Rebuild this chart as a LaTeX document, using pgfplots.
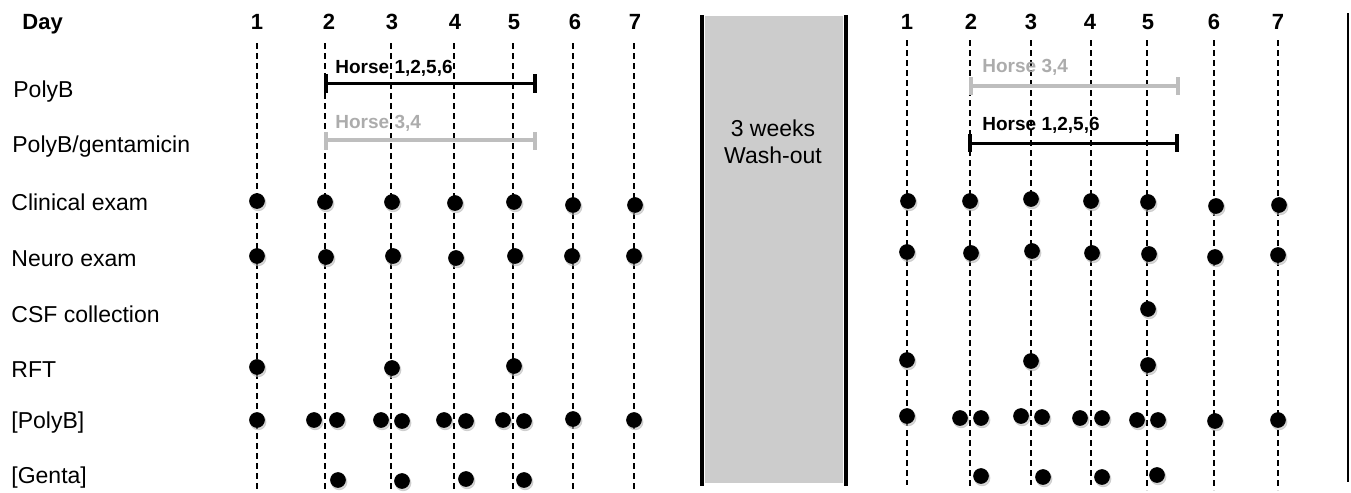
\documentclass[border=0pt]{standalone}
\usepackage{pgfplots}
\pgfplotsset{compat=1.18}
\usepackage{pgfplotstable}
\usepackage{fontspec}
\setmainfont{Liberation Sans}
\definecolor{barg}{RGB}{190,190,190}
\definecolor{txtg}{RGB}{172,172,172}
\definecolor{boxg}{RGB}{204,204,204}

% all event dots (x in px, y in px from top)
\pgfplotstableread{
x y
257 201
325 202
392 202
455 203
514 202
573 205
635 205
257 256
326 257
393 256
456 258
515 256
572 256
634 256
257 367
392 368
514 366
257 420
314 420
337 420
381 420
402 421
444 420
466 421
503 420
524 421
573 419
634 420
338 480
402 481
466 479
524 480
908 201
970 201
1031 199
1091 201
1148 202
1216 206
1279 205
907 252
971 253
1032 251
1092 253
1149 254
1215 257
1278 255
1148 309
907 360
1031 361
1148 365
907 416
960 418
981 418
1021 416
1042 417
1080 418
1102 418
1137 420
1158 420
1215 421
1278 420
981 476
1043 477
1102 477
1157 475
}\dotsdata

\tikzset{
  lbl/.style={anchor=base west, inner sep=0pt, font=\fontsize{11.5}{13}\selectfont},
  day/.style={anchor=base, inner sep=0pt, font=\fontsize{11}{13}\selectfont\bfseries},
  hrs/.style={anchor=base west, inner sep=0pt, font=\fontsize{9.5}{11}\selectfont\bfseries},
}

\begin{document}
\begin{tikzpicture}
\begin{axis}[
  scale only axis, width=675.5pt, height=246.5pt,
  xmin=0, xmax=1351, ymin=0, ymax=493, y dir=reverse,
  hide axis, clip=false, unbounded coords=jump,
]
% invisible frame to fix bounding box
\path (axis cs:0,0) rectangle (axis cs:1351,493);
% wash-out box and separators
\fill[boxg] (axis cs:705,16) rectangle (axis cs:843,483);
\draw[line width=1.6pt] (axis cs:702,15) -- (axis cs:702,486);
\draw[line width=1.6pt] (axis cs:846,15) -- (axis cs:846,486);
\draw[line width=1.4pt] (axis cs:1348,13) -- (axis cs:1348,482);
\node[font=\fontsize{11.5}{13}\selectfont, anchor=base, inner sep=0pt] at (axis cs:773,136) {3 weeks};
\node[font=\fontsize{11.5}{13}\selectfont, anchor=base, inner sep=0pt] at (axis cs:773,163) {Wash-out};

% dashed day lines
\addplot[black, line width=0.7pt, dash pattern=on 3pt off 2pt] coordinates {
(257,43) (257,490) (257,nan)
(325,43) (325,490) (325,nan)
(391,43) (391,490) (391,nan)
(454,43) (454,490) (454,nan)
(513,43) (513,490) (513,nan)
(573,43) (573,490) (573,nan)
(634,43) (634,490) (634,nan)
(907,40) (907,485) (907,nan)
(970,40) (970,487) (970,nan)
(1031,40) (1031,485) (1031,nan)
(1091,40) (1091,485) (1091,nan)
(1147,40) (1147,490) (1147,nan)
(1214,40) (1214,490) (1214,nan)
(1278,40) (1278,490)
};

% treatment bars
\addplot[barg, line width=2.4pt] coordinates {(326,140) (535,140)};
\addplot[barg, line width=2.2pt] coordinates {(326,132) (326,150) (326,nan) (535,132) (535,150)};
\addplot[black, line width=1.5pt] coordinates {(326,83) (535,83)};
\addplot[black, line width=2pt] coordinates {(326,74) (326,93) (326,nan) (535,74) (535,93)};
\addplot[barg, line width=2.4pt] coordinates {(971,86) (1178,86)};
\addplot[barg, line width=2.2pt] coordinates {(971,77) (971,95) (971,nan) (1178,77) (1178,95)};
\addplot[black, line width=1.5pt] coordinates {(970,143) (1177,143)};
\addplot[black, line width=2pt] coordinates {(970,134) (970,152) (970,nan) (1177,134) (1177,152)};

\node[hrs] at (axis cs:335,73) {Horse 1,2,5,6};
\node[hrs, text=txtg] at (axis cs:335,128) {Horse 3,4};
\node[hrs, text=txtg] at (axis cs:982,72) {Horse 3,4};
\node[hrs] at (axis cs:982,130) {Horse 1,2,5,6};

% dots with soft shadow
\addplot[only marks, mark=*, mark size=3.9pt, black!30, draw opacity=0.5, fill opacity=0.5,
  mark options={xshift=0.6pt, yshift=-1pt}] table {\dotsdata};
\addplot[only marks, mark=*, mark size=3.7pt, black] table {\dotsdata};

% header
\node[day, anchor=base west] at (axis cs:22,29) {Day};
\node[day] at (axis cs:257,29) {1};
\node[day] at (axis cs:329,29) {2};
\node[day] at (axis cs:392,29) {3};
\node[day] at (axis cs:455,29) {4};
\node[day] at (axis cs:514,29) {5};
\node[day] at (axis cs:575,29) {6};
\node[day] at (axis cs:635,29) {7};
\node[day] at (axis cs:907,29) {1};
\node[day] at (axis cs:971,29) {2};
\node[day] at (axis cs:1031,29) {3};
\node[day] at (axis cs:1090,29) {4};
\node[day] at (axis cs:1148,29) {5};
\node[day] at (axis cs:1214,29) {6};
\node[day] at (axis cs:1278,29) {7};
% row labels
\node[lbl] at (axis cs:13,97) {PolyB};
\node[lbl] at (axis cs:12,152) {PolyB/gentamicin};
\node[lbl] at (axis cs:11,210) {Clinical exam};
\node[lbl] at (axis cs:11,266) {Neuro exam};
\node[lbl] at (axis cs:11,322) {CSF collection};
\node[lbl] at (axis cs:11,377) {RFT};
\node[lbl] at (axis cs:11,428) {[PolyB]};
\node[lbl] at (axis cs:11,483) {[Genta]};
\end{axis}
\end{tikzpicture}
\end{document}
